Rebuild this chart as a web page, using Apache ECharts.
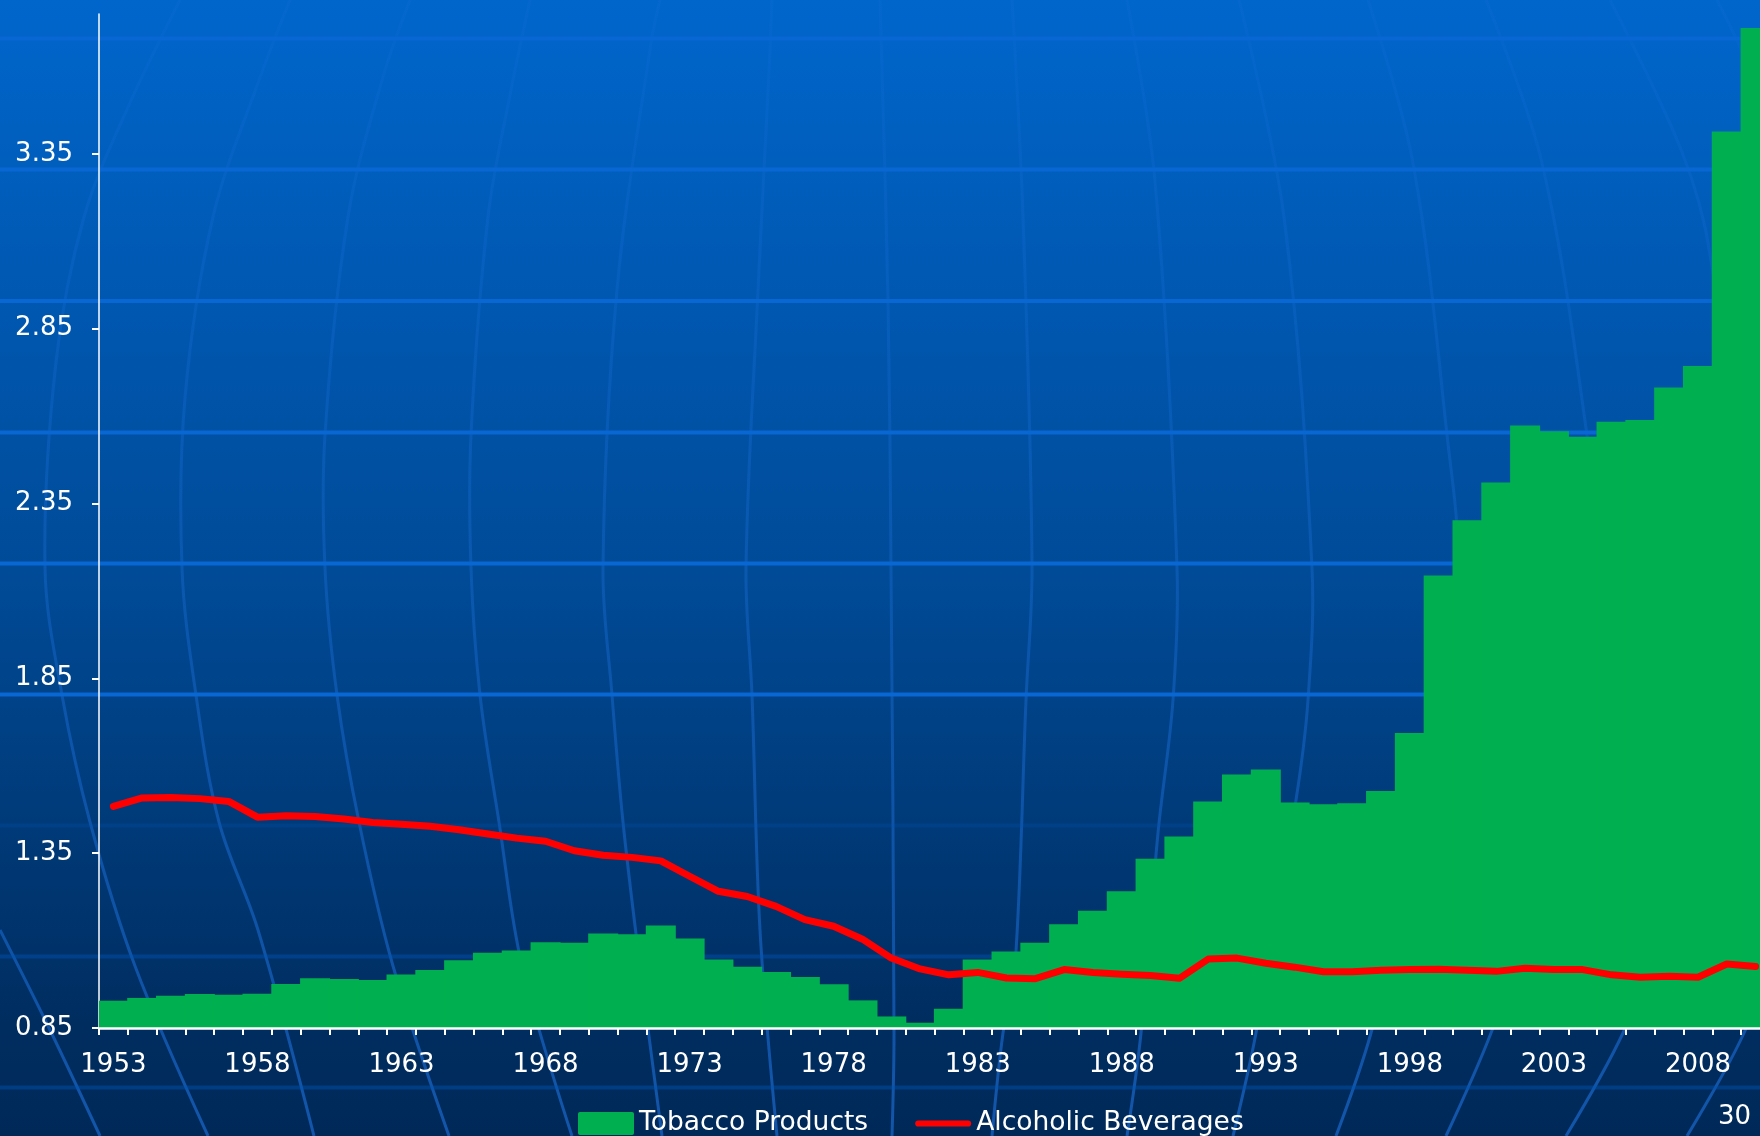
<!DOCTYPE html>
<html>
<head>
<meta charset="utf-8">
<script src="https://cdn.jsdelivr.net/npm/echarts@6/dist/echarts.min.js"></script>
<style>
html,body{margin:0;padding:0;background:#002958;}
#chart{width:1760px;height:1136px;}
</style>
</head>
<body>
<div id="chart"></div>
<script>
const years = ['1953','1954','1955','1956','1957','1958','1959','1960','1961','1962',
  '1963','1964','1965','1966','1967','1968','1969','1970','1971','1972',
  '1973','1974','1975','1976','1977','1978','1979','1980','1981','1982',
  '1983','1984','1985','1986','1987','1988','1989','1990','1991','1992',
  '1993','1994','1995','1996','1997','1998','1999','2000','2001','2002',
  '2003','2004','2005','2006','2007','2008','2009','2010'];

const tobacco = [0.928,0.936,0.942,0.947,0.945,0.948,0.976,0.992,0.990,0.987,
  1.003,1.016,1.044,1.065,1.072,1.095,1.094,1.120,1.118,1.143,
  1.106,1.046,1.025,1.010,0.996,0.975,0.929,0.883,0.865,0.905,
  1.046,1.069,1.094,1.147,1.185,1.241,1.334,1.398,1.498,1.575,
  1.589,1.495,1.490,1.493,1.528,1.694,2.144,2.302,2.410,2.573,
  2.557,2.541,2.584,2.589,2.682,2.743,3.414,3.710];

const alcohol = [1.484,1.508,1.509,1.506,1.498,1.453,1.457,1.455,1.448,1.438,
  1.433,1.427,1.417,1.405,1.393,1.384,1.357,1.344,1.338,1.328,
  1.284,1.241,1.226,1.198,1.160,1.141,1.104,1.050,1.019,1.002,
  1.009,0.993,0.991,1.017,1.009,1.004,1.000,0.992,1.047,1.050,
  1.035,1.024,1.011,1.011,1.015,1.017,1.018,1.015,1.012,1.021,
  1.017,1.017,1.002,0.995,0.998,0.995,1.033,1.026];

const yTickValues = [0.85, 1.35, 1.85, 2.35, 2.85, 3.35];
const seriesNames = ['Tobacco Products', 'Alcoholic Beverages'];
const pageNumber = '30';

const FONT = '"DejaVu Sans", Verdana, sans-serif';

// decorative globe background
const parallels = [38.5, 169.5, 301, 432.5, 563.5, 694.5, 825.5, 956.5, 1087.5];
const meridians = [
  [[0,930],[50,1030],[100,1136]],
  [[180,0],[129,105],[84,217],[56,362],[45,568],[62,695],[90,822],[135,966],[208,1136]],
  [[290,0],[258,83],[213,217],[185,398],[182,568],[196,695],[219,822],[258,930],[314,1136]],
  [[410,0],[383,77],[348,217],[325,435],[325,568],[337,695],[359,822],[393,966],[449,1136]],
  [[530,0],[509,100],[488,217],[471,435],[471,568],[480,695],[499,822],[522,966],[572,1136]],
  [[660,0],[651,43],[617,290],[603,568],[612,695],[623,822],[640,966],[662,1136]],
  [[772,0],[769,72],[758,290],[746,568],[752,695],[760,930],[777,1136]],
  [[880,0],[888,300],[891,568],[894,1033],[892,1136]],
  [[1012,0],[1023,217],[1032,568],[1026,700],[1015,967],[1003,1033],[992,1136]],
  [[1127,0],[1155,181],[1177,568],[1173,700],[1158,833],[1141,1033],[1127,1136]],
  [[1239,0],[1284,217],[1312,568],[1308,700],[1296,800],[1256,1033],[1233,1136]],
  [[1368,0],[1413,163],[1447,435],[1458,568],[1440,760],[1371,1033],[1336,1136]],
  [[1486,0],[1542,163],[1587,435],[1600,568],[1575,800],[1491,1033],[1446,1136]],
  [[1610,0],[1682,152],[1710,254],[1745,568],[1700,850],[1623,1033],[1566,1136]],
  [[1717,0],[1800,200],[1850,568],[1840,800],[1744,1033],[1687,1136]]
];

const meridianStroke = {
  type: 'linear', x: 0, y: 0, x2: 0, y2: 1136, global: true,
  colorStops: [
    { offset: 0, color: 'rgba(30,115,225,0.12)' },
    { offset: 0.45, color: 'rgba(30,115,225,0.3)' },
    { offset: 1, color: 'rgba(30,115,225,0.6)' }
  ]
};

const graphic = [];
meridians.forEach(function (pts) {
  graphic.push({
    type: 'polyline', silent: true, z: -2,
    shape: { points: pts, smooth: 0.35 },
    style: { stroke: meridianStroke, lineWidth: 3, fill: null }
  });
});
parallels.forEach(function (y, i) {
  graphic.push({
    type: 'line', silent: true, z: -1,
    shape: { x1: 0, y1: y, x2: 1760, y2: y },
    style: { stroke: i < 6 ? '#0867D3' : (i === 6 ? 'rgba(0,85,180,0.25)' : 'rgba(0,85,180,0.45)'), lineWidth: 4 }
  });
});
graphic.push({
  type: 'text', silent: true, z: 10,
  x: 1751, y: 1117,
  style: { text: pageNumber, fill: '#ffffff', font: '26px ' + FONT, textAlign: 'right', textVerticalAlign: 'middle' }
});

const chart = echarts.init(document.getElementById('chart'), null, { renderer: 'canvas', width: 1760, height: 1136 });

chart.setOption({
  animation: false,
  backgroundColor: {
    type: 'linear', x: 0, y: 0, x2: 0, y2: 1,
    colorStops: [
      { offset: 0, color: '#0066CC' },
      { offset: 0.5, color: '#004B98' },
      { offset: 0.9, color: '#002D60' },
      { offset: 1, color: '#002958' }
    ]
  },
  textStyle: { fontFamily: FONT },
  graphic: graphic,
  grid: { left: 99, top: 14, width: 1671, height: 1014, containLabel: false, outerBoundsMode: 'none' },
  legend: {
    left: 573, top: 1105,
    itemWidth: 56, itemHeight: 24, itemGap: 47,
    itemStyle: { borderWidth: 0 },
    textStyle: { color: '#ffffff', fontSize: 26.5, fontFamily: FONT },
    data: [
      { name: seriesNames[0], icon: 'path://M2,0 L54,0 Q56,0 56,2 L56,21 Q56,23 54,23 L2,23 Q0,23 0,21 L0,2 Q0,0 2,0 Z' },
      { name: seriesNames[1], icon: 'path://M3,0 L51,0 A3,3 0 0 1 51,6 L3,6 A3,3 0 0 1 3,0 Z' }
    ]
  },
  xAxis: {
    type: 'category', data: years, boundaryGap: true, z: 4,
    axisLine: { show: true, lineStyle: { color: '#ffffff', width: 2.5 } },
    axisTick: { show: true, interval: 0, length: 7, lineStyle: { color: '#ffffff', width: 2 } },
    axisLabel: { interval: 4, color: '#ffffff', fontSize: 26, fontFamily: FONT, margin: 24 },
    splitLine: { show: false }
  },
  yAxis: {
    type: 'value', min: 0.85, max: 3.75, interval: 0.5, startValue: 0.85,
    axisLine: { show: true, lineStyle: { color: '#ffffff', width: 1.5 } },
    axisTick: { show: true, length: 7, lineStyle: { color: '#ffffff', width: 2 }, customValues: yTickValues },
    axisLabel: { color: '#ffffff', fontSize: 26, fontFamily: FONT, margin: 26,
      formatter: function (v) { return v.toFixed(2); }, customValues: yTickValues },
    splitLine: { show: false }
  },
  series: [
    {
      name: seriesNames[0], type: 'bar', data: tobacco, clip: true,
      barWidth: 30, barGap: '0%', z: 2,
      itemStyle: { color: '#00B050' }
    },
    {
      name: seriesNames[1], type: 'line', data: alcohol, symbol: 'none', showSymbol: false,
      smooth: false, z: 3,
      itemStyle: { color: '#FF0000' },
      lineStyle: { color: '#FF0000', width: 7, join: 'round', cap: 'round' }
    }
  ]
});
</script>
</body>
</html>
